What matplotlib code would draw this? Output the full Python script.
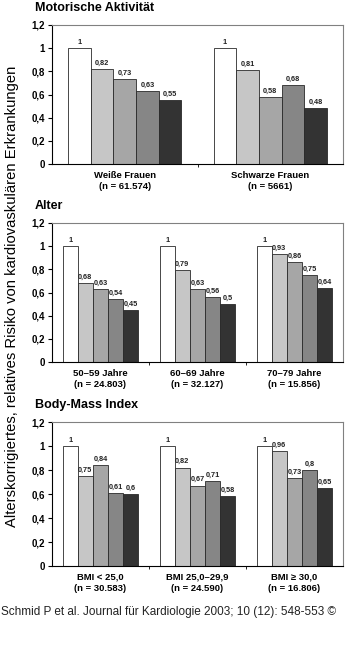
import numpy as np
import matplotlib.pyplot as plt

plt.rcParams["font.family"] = ["Liberation Sans", "DejaVu Sans"]

# relative risk per activity quintile (white .. black)
akt_labels = ["Weiße Frauen\n(n = 61.574)", "Schwarze Frauen\n(n = 5661)"]
akt_values = [
    [1, 0.82, 0.73, 0.63, 0.55],
    [1, 0.81, 0.58, 0.68, 0.48],
]

alter_labels = ["50–59 Jahre\n(n = 24.803)", "60–69 Jahre\n(n = 32.127)", "70–79 Jahre\n(n = 15.856)"]
alter_values = [
    [1, 0.68, 0.63, 0.54, 0.45],
    [1, 0.79, 0.63, 0.56, 0.5],
    [1, 0.93, 0.86, 0.75, 0.64],
]

bmi_labels = ["BMI < 25,0\n(n = 30.583)", "BMI 25,0–29,9\n(n = 24.590)", "BMI ≥ 30,0\n(n = 16.806)"]
bmi_values = [
    [1, 0.75, 0.84, 0.61, 0.6],
    [1, 0.82, 0.67, 0.71, 0.58],
    [1, 0.96, 0.73, 0.8, 0.65],
]

bar_colors = ["#ffffff", "#c6c6c6", "#a6a6a6", "#868686", "#333333"]
yticks = [0, 0.2, 0.4, 0.6, 0.8, 1.0, 1.2]


def fmt(v):
    s = ("%g" % v).replace(".", ",")
    return s


W, H = 348, 661
fig = plt.figure(figsize=(W / 100, H / 100), dpi=100)


def panel(top, bottom, title, labels, values):
    ax = fig.add_axes([52 / W, 1 - bottom / H, 291 / W, (bottom - top) / H])
    n = len(labels)
    bw = 0.156
    for i, grp in enumerate(values):
        for j, v in enumerate(grp):
            x = i + (j - 2) * bw
            ax.bar(x, v, width=bw, color=bar_colors[j], edgecolor="#2a2a2a",
                   linewidth=0.6)
            ax.text(x, v + 0.02, fmt(v), ha="center", va="bottom",
                    fontsize=5.3, fontweight="bold", color="#222222")
    ax.set_xlim(-0.5, n - 0.5)
    ax.set_ylim(0, 1.2)
    ax.set_yticks(yticks)
    ax.set_yticklabels([fmt(t) for t in yticks], fontsize=7, fontweight="bold")
    ax.set_xticks(range(n))
    ax.set_xticklabels(labels, fontsize=6.8, fontweight="bold", linespacing=1.3)
    ax.set_xticks(np.arange(0.5, n - 0.5), minor=True)
    ax.tick_params(axis="x", which="major", length=0, pad=5)
    ax.tick_params(axis="x", which="minor", length=2, direction="out", width=0.6)
    ax.tick_params(axis="y", length=3, width=0.8, pad=2)
    for s in ["left", "bottom"]:
        ax.spines[s].set_color("black")
        ax.spines[s].set_linewidth(0.8)
    for s in ["top", "right"]:
        ax.spines[s].set_color("#808080")
        ax.spines[s].set_linewidth(0.8)
    fig.text(35 / W, 1 - (top - 17) / H, title, fontsize=9, fontweight="bold",
             ha="left", va="center")
    return ax


panel(25, 164, "Motorische Aktivität", akt_labels, akt_values)
panel(223, 362, "Alter", alter_labels, alter_values)
panel(422, 566, "Body-Mass Index", bmi_labels, bmi_values)

fig.text(12 / W, 1 - 296 / H,
         "Alterskorrigiertes, relatives Risiko von kardiovaskulären Erkrankungen",
         rotation=90, ha="center", va="center", fontsize=10.6)

fig.text(1 / W, 1 - 612 / H,
         "Schmid P et al. Journal für Kardiologie 2003; 10 (12): 548-553 ©",
         ha="left", va="center", fontsize=8.5, color="#222222")

fig.savefig("out.png", dpi=100)
